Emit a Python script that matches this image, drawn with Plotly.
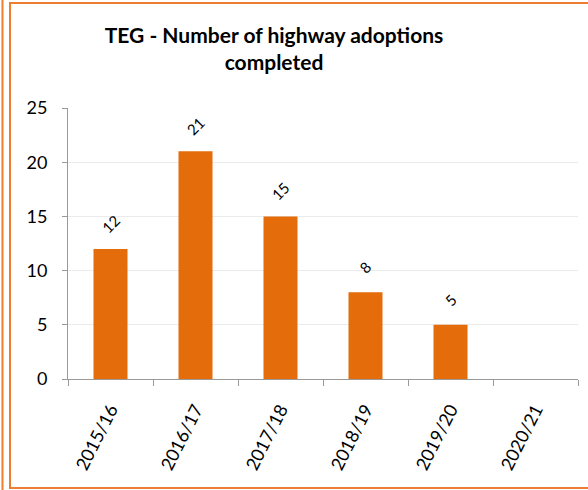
import plotly.graph_objects as go

# chart data
years = ['2015/16', '2016/17', '2017/18', '2018/19', '2019/20', '2020/21']
adoptions = [12, 21, 15, 8, 5, None]

W, H = 588, 490
ML, MR, MT, MB = 68, 10, 108, 111
PW, PH = W - ML - MR, H - MT - MB

def px_x(p):
    return (p - ML) / PW

def px_y(p):
    return (H - MB - p) / PH

bar_color = '#E46C0A'
border_color = '#ED7D31'
font_family = 'Lato, Open Sans, sans-serif'

fig = go.Figure()
fig.add_trace(go.Bar(
    x=years,
    y=adoptions,
    marker=dict(color=bar_color, line=dict(width=0)),
    width=0.4,
))

# rotated value labels above the bars
for yr, v in zip(years, adoptions):
    if v is None:
        continue
    fig.add_annotation(
        x=yr, y=v, text=str(v), showarrow=False, textangle=-45,
        yanchor='middle', xanchor='center', yshift=25,
        font=dict(family=font_family, size=15, color='#000000'),
    )

# orange frame lines (outer left line + inner box)
fig.add_shape(type='line', xref='paper', yref='paper',
              x0=px_x(2.5), x1=px_x(2.5), y0=px_y(0), y1=px_y(490),
              line=dict(color=border_color, width=2))
fig.add_shape(type='rect', xref='paper', yref='paper',
              x0=px_x(10), x1=px_x(600), y0=px_y(3), y1=px_y(488),
              line=dict(color=border_color, width=2))

fig.update_layout(
    width=W, height=H,
    margin=dict(l=ML, r=MR, t=MT, b=MB),
    paper_bgcolor='white', plot_bgcolor='white',
    showlegend=False,
    font=dict(family=font_family, size=18, color='#000000'),
    title=dict(
        text='<b>TEG - Number of highway adoptions<br>completed</b>',
        x=274 / W, xanchor='center', xref='container',
        y=1 - 43 / H, yanchor='middle',
        font=dict(family=font_family, size=21, color='#000000'),
    ),
    bargap=0.6,
)

fig.update_xaxes(
    type='category',
    showline=True, linecolor='#9a9a9a', linewidth=1,
    ticks='outside', tickson='boundaries', ticklen=6, tickcolor='#9a9a9a',
    tickangle=-63, showgrid=False, ticklabelstandoff=12,
    tickfont=dict(family=font_family, size=18),
)
fig.update_yaxes(
    range=[0, 25], dtick=5,
    showline=True, linecolor='#9a9a9a', linewidth=1,
    ticks='outside', ticklen=5, tickcolor='#9a9a9a',
    showgrid=True, gridcolor='#ebebeb', gridwidth=1,
    zeroline=False, ticklabelstandoff=11,
    tickfont=dict(family=font_family, size=18),
)

fig.write_html('out.html', config={'displayModeBar': False},
               post_script="document.body.style.margin='0';")
